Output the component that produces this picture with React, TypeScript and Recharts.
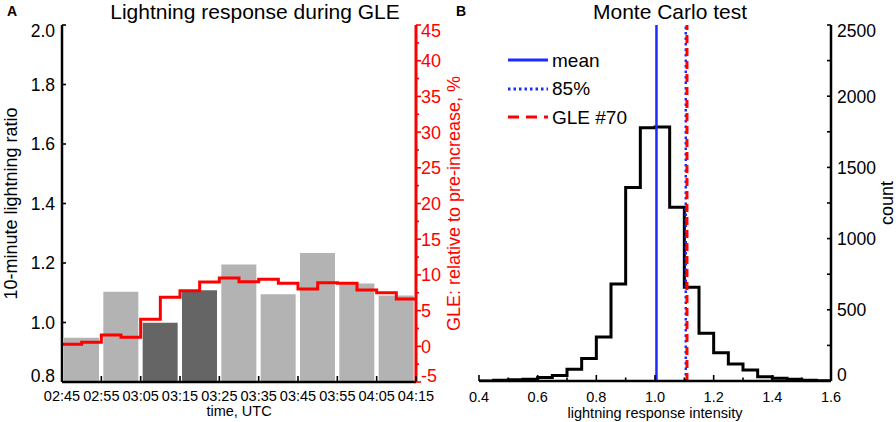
import React from "react";
import {
  ComposedChart,
  Bar,
  Line,
  XAxis,
  YAxis,
  Cell,
  ReferenceLine,
  Legend,
  Label,
} from "recharts";

const FONT = '"Liberation Sans", Arial, Helvetica, sans-serif';
const RED = "#ff0000";
const BLUE = "#1a2cff";

// ---- panel A: lightning ratio per 10 min + GLE increase per 5 min ----
const timeTicks = [0, 10, 20, 30, 40, 50, 60, 70, 80, 90];
const timeLabels = ["02:45", "02:55", "03:05", "03:15", "03:25", "03:35", "03:45", "03:55", "04:05", "04:15"];
const fiveMinTicks = [0, 5, 10, 15, 20, 25, 30, 35, 40, 45, 50, 55, 60, 65, 70, 75, 80, 85, 90];
const barMinutes = [5, 15, 25, 35, 45, 55, 65, 75, 85];
const lightningRatio = [0.949, 1.103, 0.999, 1.108, 1.195, 1.095, 1.234, 1.131, 1.091];
const darkBar = [false, false, true, true, false, false, false, false, false];
const gleMinutes = [0, 5, 10, 15, 20, 25, 30, 35, 40, 45, 50, 55, 60, 65, 70, 75, 80, 85, 90];
const gleIncrease = [0.28, 0.56, 1.58, 1.26, 3.78, 6.86, 7.79, 9.0, 9.55, 9.05, 9.38, 8.82, 8.02, 8.9, 8.82, 7.88, 7.51, 6.62, 6.62];
const ratioTicks = [0.8, 1.0, 1.2, 1.4, 1.6, 1.8, 2.0];
const gleTicks = [-5, -2.5, 0, 2.5, 5, 7.5, 10, 12.5, 15, 17.5, 20, 22.5, 25, 27.5, 30, 32.5, 35, 37.5, 40, 42.5, 45];

// ---- panel B: Monte Carlo histogram ----
const binEdges = [
  0.4, 0.45, 0.5, 0.55, 0.6, 0.65, 0.7, 0.75, 0.8, 0.85, 0.9, 0.95, 1.0,
  1.05, 1.1, 1.15, 1.2, 1.25, 1.3, 1.35, 1.4, 1.45, 1.5, 1.55, 1.6,
];
const binCounts = [0, 5, 8, 12, 24, 38, 82, 158, 309, 681, 1358, 1779, 1784, 1220, 658, 335, 199, 119, 77, 30, 19, 12, 5, 2];
const intensityTicks = [0.4, 0.5, 0.6, 0.7, 0.8, 0.9, 1.0, 1.1, 1.2, 1.3, 1.4, 1.5, 1.6];
const countTicks = [0, 250, 500, 750, 1000, 1250, 1500, 1750, 2000, 2250, 2500];
const meanIntensity = 1.005;
const pct85Intensity = 1.105;
const gle70Intensity = 1.109;

const barRows = barMinutes.map((m, i) => ({ min: m, ratio: lightningRatio[i], dark: darkBar[i] }));
const gleRows = gleMinutes.map((m, i) => ({ min: m, gle: gleIncrease[i] }));

const panelBRows = binEdges.map((e, i) => ({
  x: e,
  count: binCounts[Math.min(i, binCounts.length - 1)],
}));

type Side = "left" | "right" | "top" | "bottom";
interface TickOpts {
  side: Side;
  color?: string;
  major: (v: number) => boolean;
  majorLen: number; // positive = into the plot
  minorLen: number;
  label?: (v: number) => string;
  gap?: number;
  fontSize?: number;
  ends?: [number, number]; // end labels are nudged inside the frame
}

// inward ticks (IDL style); axes use tickSize=0, tickMargin=0 so x/y is the frame edge
function axisTick(o: TickOpts) {
  return (props: any) => {
    const { x, y, payload } = props;
    const v = payload.value as number;
    const isMajor = o.major(v);
    const len = isMajor ? o.majorLen : o.minorLen;
    const color = o.color ?? "#000";
    const gap = o.gap ?? 6;
    const txt = isMajor && o.label ? o.label(v) : null;
    const fs = o.fontSize ?? 17;
    const tProps = { fill: color, stroke: "none", fontSize: fs, fontFamily: FONT };
    let ty = y;
    if (o.ends) {
      if (v === o.ends[0]) ty = y - 6;
      if (v === o.ends[1]) ty = y + 6;
    }
    let line = null;
    let text = null;
    if (o.side === "left") {
      line = <line x1={x} x2={x + len} y1={y} y2={y} />;
      if (txt) text = <text {...tProps} x={x - gap} y={ty} dy="0.36em" textAnchor="end">{txt}</text>;
    } else if (o.side === "right") {
      line = <line x1={x} x2={x - len} y1={y} y2={y} />;
      if (txt) text = <text {...tProps} x={x + gap} y={ty} dy="0.36em" textAnchor="start">{txt}</text>;
    } else if (o.side === "bottom") {
      line = <line x1={x} x2={x} y1={y} y2={y - len} />;
      if (txt) text = <text {...tProps} x={x} y={y + gap} dy="0.36em" textAnchor="middle">{txt}</text>;
    } else {
      line = <line x1={x} x2={x} y1={y} y2={y + len} />;
    }
    return (
      <g>
        <g stroke={color} strokeWidth={1.6}>{line}</g>
        {text}
      </g>
    );
  };
}

const frame = (c = "#000") => ({ stroke: c, strokeWidth: 2.5 });

const rotLabel = (text: string, dx: number, color = "#000", fs = 18) => (props: any) => {
  const vb = props.viewBox;
  const cx = vb.x + dx;
  const cy = vb.y + vb.height / 2;
  return (
    <text x={cx} y={cy} transform={`rotate(-90, ${cx}, ${cy})`} textAnchor="middle" dominantBaseline="central" fill={color} fontSize={fs} fontFamily={FONT}>
      {text}
    </text>
  );
};

const bottomLabel = (text: string, dy: number, fs = 14.5) => (props: any) => {
  const vb = props.viewBox;
  return (
    <text x={vb.x + vb.width / 2} y={vb.y + dy} textAnchor="middle" dominantBaseline="central" fill="#000" fontSize={fs} fontFamily={FONT}>
      {text}
    </text>
  );
};

function LegendBox() {
  const rows = [
    { name: "mean", color: BLUE, dash: undefined as string | undefined },
    { name: "85%", color: BLUE, dash: "2.5 3" },
    { name: "GLE #70", color: RED, dash: "11 7" },
  ];
  return (
    <div style={{ fontFamily: FONT }}>
      {rows.map((r) => (
        <div key={r.name} style={{ display: "flex", alignItems: "center", height: 28.5 }}>
          <svg width={40} height={10}>
            <line x1={0} x2={40} y1={5} y2={5} stroke={r.color} strokeWidth={3} strokeDasharray={r.dash} />
          </svg>
          <span style={{ marginLeft: 4, fontSize: 19, lineHeight: "19px", color: "#000" }}>{r.name}</span>
        </div>
      ))}
    </div>
  );
}

const textDiv = (text: string, left: number, width: number, fs: number, bold = false, align: "center" | "left" = "center") => (
  <div
    style={{
      position: "absolute",
      left,
      top: bold ? 4 : 1,
      width,
      textAlign: align,
      fontFamily: FONT,
      fontSize: fs,
      lineHeight: `${fs}px`,
      fontWeight: bold ? "bold" : "normal",
      color: "#000",
      whiteSpace: "nowrap",
    }}
  >
    {text}
  </div>
);

export default function App() {
  return (
    <div style={{ position: "absolute", left: 0, top: 0, width: 896, height: 422, background: "#fff", overflow: "hidden" }}>
      <div style={{ position: "absolute", left: 0, top: 0 }}>
        <ComposedChart width={470} height={422} data={barRows} margin={{ top: 25, right: 0, bottom: 0, left: 0 }}>
          <XAxis
            xAxisId="t"
            dataKey="min"
            type="number"
            domain={[0, 90]}
            allowDataOverflow
            ticks={timeTicks}
            interval={0}
            height={40}
            tickSize={0}
            tickMargin={0}
            tickLine={false}
            axisLine={frame()}
            tick={axisTick({
              side: "bottom",
              major: () => true,
              majorLen: 6,
              minorLen: 6,
              label: (v) => timeLabels[timeTicks.indexOf(v)],
              gap: 14,
              fontSize: 14.5,
            })}
            label={<Label content={bottomLabel("time, UTC", 29)} />}
          />
          <XAxis xAxisId="bars" dataKey="min" type="number" domain={[0, 90]} allowDataOverflow height={0} hide />
          <XAxis
            xAxisId="top"
            dataKey="min"
            orientation="top"
            type="number"
            domain={[0, 90]}
            allowDataOverflow
            ticks={fiveMinTicks}
            interval={0}
            height={0}
            tickSize={0}
            tickMargin={0}
            tickLine={false}
            axisLine={frame()}
            tick={axisTick({ side: "top", major: () => true, majorLen: 6, minorLen: 6 })}
          />
          <YAxis
            yAxisId="ratio"
            domain={[0.8, 2.0]}
            allowDataOverflow
            ticks={ratioTicks}
            interval={0}
            width={62}
            tickSize={0}
            tickMargin={0}
            tickLine={false}
            axisLine={frame()}
            tick={axisTick({
              side: "left",
              major: () => true,
              majorLen: 4,
              minorLen: 4,
              label: (v) => v.toFixed(1),
              gap: 7,
              fontSize: 17.5,
              ends: [0.8, 2.0],
            })}
            label={<Label content={rotLabel("10-minute lightning ratio", 11)} />}
          />
          <YAxis
            yAxisId="gle"
            orientation="right"
            domain={[-5, 45]}
            allowDataOverflow
            ticks={gleTicks}
            interval={0}
            width={54}
            tickSize={0}
            tickMargin={0}
            tickLine={false}
            axisLine={{ stroke: RED, strokeWidth: 3 }}
            tick={axisTick({
              side: "right",
              color: RED,
              major: (v) => v % 5 === 0,
              majorLen: -5,
              minorLen: -3,
              label: (v) => String(v),
              gap: 5,
              fontSize: 18,
              ends: [-5, 45],
            })}
            label={<Label content={rotLabel("GLE: relative to pre-increase, %", 38, RED, 18)} />}
          />
          <Bar xAxisId="bars" yAxisId="ratio" dataKey="ratio" barSize={35} isAnimationActive={false}>
            {barRows.map((r, i) => (
              <Cell key={i} fill={r.dark ? "#656565" : "#b3b3b3"} />
            ))}
          </Bar>
          <Line
            data={gleRows}
            xAxisId="t"
            yAxisId="gle"
            dataKey="gle"
            type="stepAfter"
            stroke={RED}
            strokeWidth={3}
            dot={false}
            activeDot={false}
            isAnimationActive={false}
          />
        </ComposedChart>
      </div>

      <div style={{ position: "absolute", left: 450, top: 0 }}>
        <ComposedChart width={446} height={422} data={panelBRows} margin={{ top: 25, right: 0, bottom: 0, left: 29 }}>
          <XAxis
            xAxisId="b"
            dataKey="x"
            type="number"
            domain={[0.4, 1.6]}
            allowDataOverflow
            ticks={intensityTicks}
            interval={0}
            height={41}
            tickSize={0}
            tickMargin={0}
            tickLine={false}
            axisLine={frame()}
            tick={axisTick({
              side: "bottom",
              major: (v) => Math.round(v * 10) % 2 === 0,
              majorLen: 6,
              minorLen: 3.5,
              label: (v) => v.toFixed(1),
              gap: 16,
              fontSize: 14.5,
            })}
            label={<Label content={bottomLabel("lightning response intensity", 31.5)} />}
          />
          <XAxis
            xAxisId="top"
            dataKey="x"
            orientation="top"
            type="number"
            domain={[0.4, 1.6]}
            allowDataOverflow
            ticks={intensityTicks}
            interval={0}
            height={0}
            tickSize={0}
            tickMargin={0}
            tickLine={false}
            axisLine={frame()}
            tick={axisTick({ side: "top", major: (v) => Math.round(v * 10) % 2 === 0, majorLen: 6, minorLen: 3.5 })}
          />
          <YAxis
            yAxisId="left"
            domain={[0, 2500]}
            allowDataOverflow
            ticks={countTicks}
            interval={0}
            width={0}
            tickSize={0}
            tickMargin={0}
            tickLine={false}
            axisLine={frame()}
            tick={axisTick({ side: "left", major: () => true, majorLen: 3.5, minorLen: 3.5 })}
          />
          <YAxis
            yAxisId="count"
            orientation="right"
            domain={[0, 2500]}
            allowDataOverflow
            ticks={countTicks}
            interval={0}
            width={65}
            tickSize={0}
            tickMargin={0}
            tickLine={false}
            axisLine={frame()}
            tick={axisTick({
              side: "right",
              major: (v) => v % 500 === 0,
              majorLen: 4,
              minorLen: 4,
              label: (v) => String(v),
              gap: 6,
              fontSize: 17.5,
              ends: [0, 2500],
            })}
            label={<Label content={rotLabel("count", 56)} />}
          />
          <Line
            xAxisId="b"
            yAxisId="count"
            dataKey="count"
            type="stepAfter"
            stroke="#000"
            strokeWidth={3}
            dot={false}
            activeDot={false}
            isAnimationActive={false}
          />
          <ReferenceLine xAxisId="b" yAxisId="count" x={meanIntensity} stroke={BLUE} strokeWidth={2.5} />
          <ReferenceLine xAxisId="b" yAxisId="count" x={pct85Intensity} stroke={BLUE} strokeWidth={2.5} strokeDasharray="2.5 3" />
          <ReferenceLine xAxisId="b" yAxisId="count" x={gle70Intensity} stroke={RED} strokeWidth={3} strokeDasharray="8 5" />
          <Legend
            layout="vertical"
            align="center"
            verticalAlign="middle"
            wrapperStyle={{ left: 58, top: 46, width: 160 }}
            content={() => <LegendBox />}
          />
        </ComposedChart>
      </div>

      {textDiv("A", 7, 20, 14, true, "left")}
      {textDiv("Lightning response during GLE", 55, 400, 21)}
      {textDiv("B", 456, 20, 14, true, "left")}
      {textDiv("Monte Carlo test", 520, 300, 21)}
    </div>
  );
}
